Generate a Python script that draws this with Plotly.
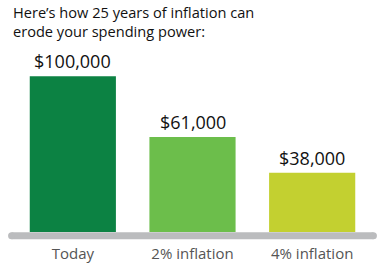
import plotly.graph_objects as go

categories = ["Today", "2% inflation", "4% inflation"]
values = [100000, 61000, 38000]
labels = ["$100,000", "$61,000", "$38,000"]
colors = ["#0c8243", "#6cbe4b", "#c3d030"]
title_text = "Here’s how 25 years of inflation can<br>erode your spending power:"

FONT = "Open Sans"
PLOT_BOTTOM = 232  # pixel row of the plot bottom
PLOT_H = 272 - 45 - 40


def py(pix):
    return (PLOT_BOTTOM - pix) / PLOT_H


fig = go.Figure()
fig.add_trace(go.Bar(
    x=categories, y=values, marker=dict(color=colors, line=dict(width=0)),
    width=0.72, hoverinfo="skip",
))

for c, v, t in zip(categories, values, labels):
    fig.add_annotation(x=c, y=v, text=t, showarrow=False, yanchor="bottom",
                       yshift=1, font=dict(family=FONT, size=18, color="#111111"))

# baseline bar with rounded ends
ly = py(235.7)
fig.add_shape(type="line", xref="paper", yref="paper", x0=-0.004, x1=1.004,
              y0=ly, y1=ly, line=dict(color="#bbbcbe", width=7))
for xp in [-0.004, 1.004]:
    fig.add_shape(type="circle", xref="paper", yref="paper", xsizemode="pixel",
                  ysizemode="pixel", xanchor=xp, yanchor=ly,
                  x0=-3.5, x1=3.5, y0=-3.5, y1=3.5,
                  fillcolor="#bbbcbe", line=dict(width=0))

fig.add_annotation(xref="paper", yref="paper", x=-0.005, y=py(21.5),
                   xanchor="left", yanchor="middle", text=title_text, showarrow=False,
                   align="left", font=dict(family=FONT, size=14.6, color="#111111"))

fig.update_layout(
    width=387, height=272,
    margin=dict(l=13, r=15, t=45, b=40, autoexpand=False),
    paper_bgcolor="white", plot_bgcolor="white",
    showlegend=False,
    xaxis=dict(showgrid=False, zeroline=False, showline=False, ticks="",
               tickfont=dict(family=FONT, size=15, color="#555555"),
               ticklabelstandoff=11, range=[-0.5, 2.5], automargin=False),
    yaxis=dict(visible=False, range=[0, 120000], automargin=False),
)

fig.write_html("out.html")
